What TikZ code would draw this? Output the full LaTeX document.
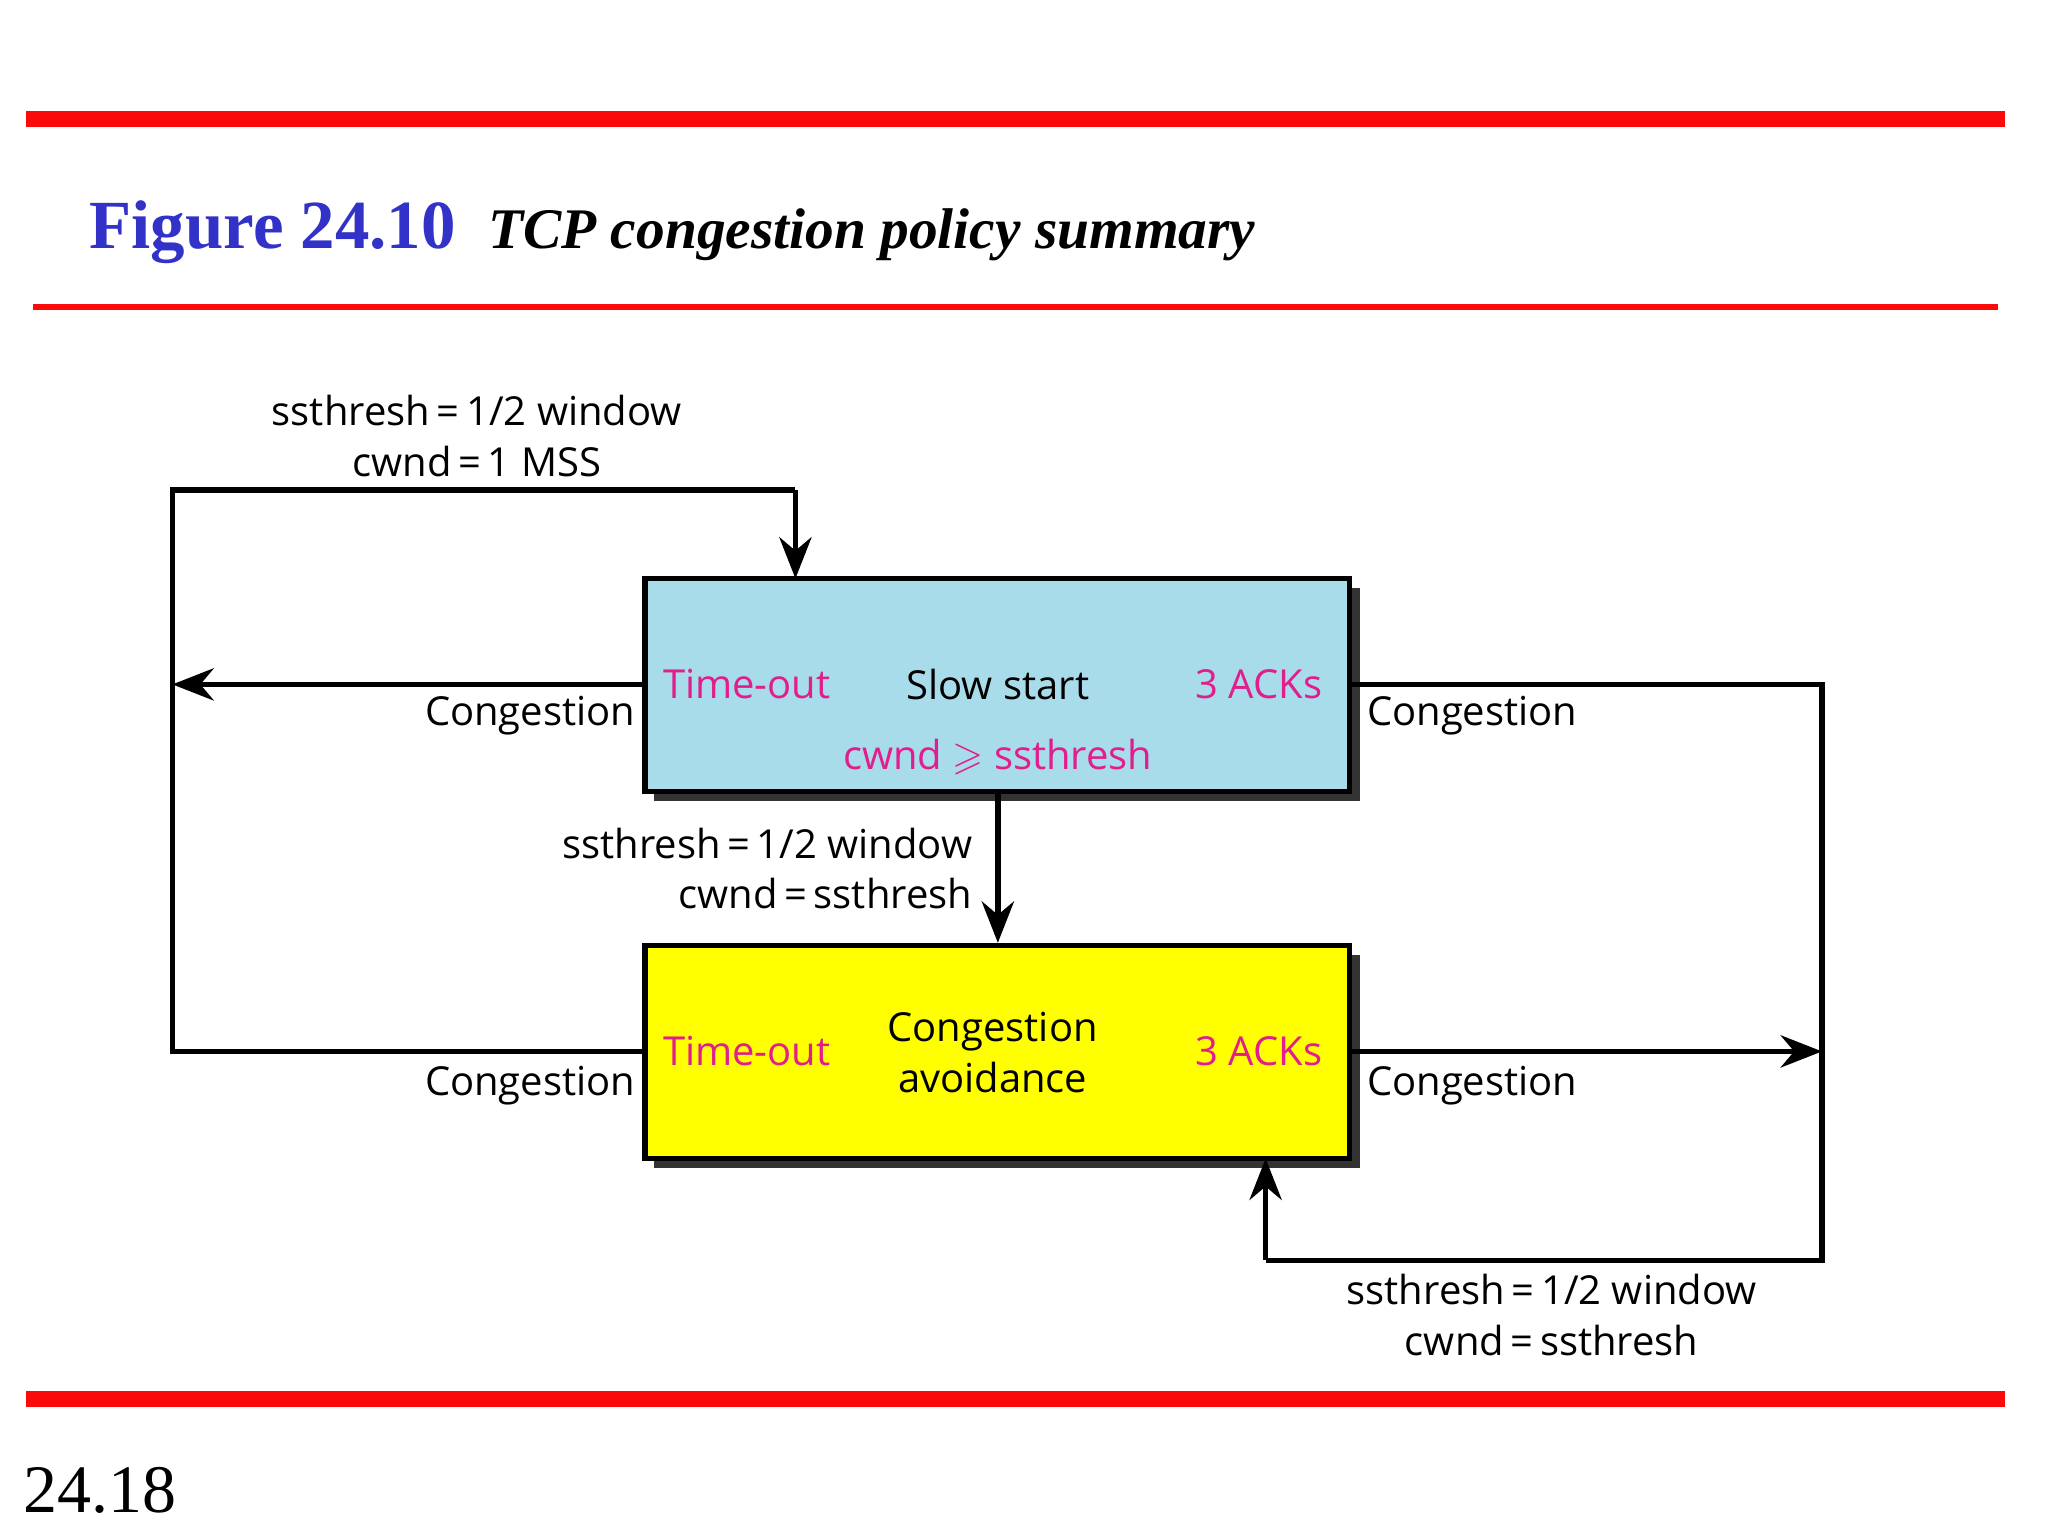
\documentclass[tikz,border=0pt]{standalone}
\usepackage{amssymb}
\usepackage{fontspec}
\setmainfont{Liberation Serif}
\newfontfamily\diagf{Open Sans}
\usetikzlibrary{arrows.meta}
\definecolor{bar}{RGB}{250,10,10}
\definecolor{ttl}{RGB}{50,50,200}
\definecolor{mag}{RGB}{225,30,140}
\definecolor{bluef}{RGB}{168,220,235}
\definecolor{yelf}{RGB}{255,255,0}
\begin{document}
\begin{tikzpicture}[x=0.01cm,y=-0.01cm,
  lbl/.style={font=\diagf\fontsize{8.7}{11}\selectfont,inner sep=0pt},
  mg/.style={lbl,text=mag},
  box/.style={draw=black,line width=1.2pt,minimum width=5.39cm,minimum height=1.63cm,inner sep=0pt},
  ln/.style={line width=1.2pt},
  ar/.style={ln,-{Stealth[length=9pt,width=7pt]}}]
\useasboundingbox (0,0) rectangle (1568,1176);
\fill[bar] (20,85) rectangle (1535,97);
\fill[bar] (20,1065) rectangle (1535,1077);
\draw[bar,line width=1.2pt] (25,235) -- (1530,235);
\node[anchor=base west,inner sep=0pt,text=ttl,font=\fontsize{15}{18}\selectfont\bfseries] (fig) at (68,190) {Figure 24.10};
\node[anchor=base west,inner sep=0pt,font=\fontsize{12.5}{15}\selectfont\bfseries\itshape] (tt) at (373,190) {TCP congestion policy summary};
\node[anchor=base west,inner sep=0pt,font=\fontsize{14.8}{18}\selectfont] (pg) at (17,1158) {24.18};
% boxes with shadow
\fill[black!80] (501,450) rectangle (1041,613);
\fill[black!80] (501,731) rectangle (1041,894);
\node[box,fill=bluef] (ss) at (763.5,524.5) {};
\node[box,fill=yelf] (ca) at (763.5,805.5) {};
\node[mg,anchor=west] (to1) at (507,524) {Time-out};
\node[lbl] (sst) at (764,524) {Slow start};
\node[mg,anchor=east] (a1) at (1013,524) {3 ACKs};
\node[mg] (th) at (764,580) {cwnd $\geqslant$ ssthresh};
\node[mg,anchor=west] (to2) at (507,805) {Time-out};
\node[lbl,align=center,font=\diagf\fontsize{8.7}{11.2}\selectfont] (cat) at (760,806) {Congestion\\avoidance};
\node[mg,anchor=east] (a2) at (1013,805) {3 ACKs};
% coordinates
\coordinate (L1) at (132,524);
\coordinate (L2) at (132,805);
\coordinate (L3) at (132,375);
\coordinate (L4) at (609,375);
\coordinate (T1) at (609,443);
\coordinate (R1) at (1395,524);
\coordinate (R2) at (1395,805);
\coordinate (R3) at (1395,965);
\coordinate (R4) at (969,965);
\coordinate (B1) at (969,887);
\draw[ar] (ss.west|-L1) -- (L1);
\draw[ln] (ca.west|-L2) -- (L2) -- (L3) -- (L4);
\draw[ar] (L4) -- (T1);
\draw[ln] (ss.east|-R1) -- (R1) -- (R3) -- (R4);
\draw[ar] (R4) -- (B1);
\draw[ar] (ca.east|-R2) -- (R2);
\draw[ar] (ss.south-|764,0) -- (ca.north-|764,0);
% labels
\node[lbl,align=center,font=\diagf\fontsize{8.7}{11}\selectfont] (l1) at (365,334) {ssthresh\,=\,1/2 window\\cwnd\,=\,1 MSS};
\node[lbl,anchor=east] (c1) at (487,548) {Congestion};
\node[lbl,anchor=east] (c2) at (487,831) {Congestion};
\node[lbl,anchor=west] (c3) at (1046,548) {Congestion};
\node[lbl,anchor=west] (c4) at (1046,831) {Congestion};
\node[lbl,align=right,anchor=east,font=\diagf\fontsize{8.7}{11}\selectfont] (l2) at (745,665) {ssthresh\,=\,1/2 window\\cwnd\,=\,ssthresh};
\node[lbl,align=center,font=\diagf\fontsize{8.7}{11}\selectfont] (l3) at (1188,1007) {ssthresh\,=\,1/2 window\\cwnd\,=\,ssthresh};
\end{tikzpicture}
\end{document}
